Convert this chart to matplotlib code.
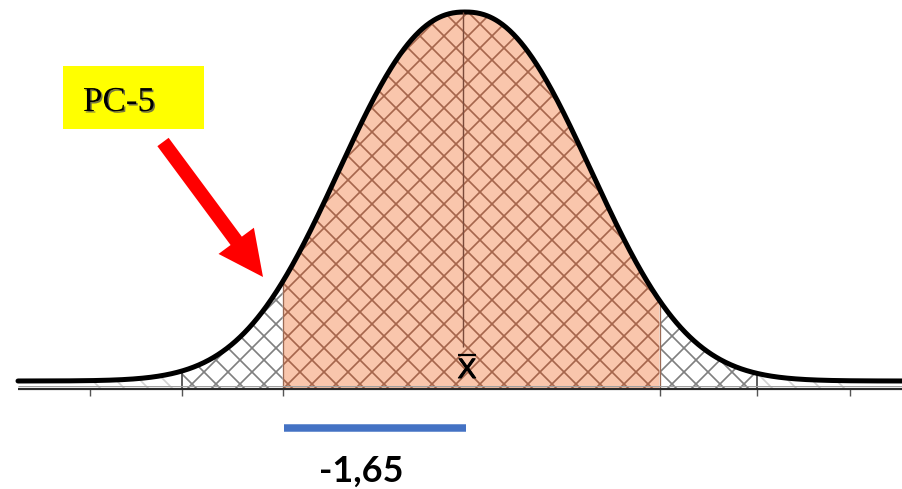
import matplotlib
matplotlib.use("Agg")
import matplotlib.pyplot as plt  # noqa: E402
import matplotlib.patheffects as pe  # noqa: E402
import numpy as np  # noqa: E402

# values (x in screen-like units, y = height above bottom edge)
curve_mean = 465.0
curve_base = 108.0      # level the tails run out to
curve_peak = 369.0      # peak height above curve_base
curve_spread = 162.0
curve_shape = 2.3       # bell is a bit flatter on top than a plain gaussian
axis_level = 100.5
x_start, x_end = 18.0, 902.0

tick_x = [90, 182, 283, 660, 757, 850]
shade_bounds = (283, 660)     # salmon, cross-hatched
tail_bounds = (182, 757)      # grey cross-hatch outside the salmon part
far_bounds = (90, 850)        # faint single hatch
mean_line_x = 463
z_label = "-1,65"
box_label = "PC-5"

SALMON = "#F9C6AC"
BROWN_HATCH = "#A6664C"
GREY_HATCH = "#808080"
FAINT_HATCH = "#D2D2D2"
BLUE = "#4472C4"

plt.rcParams["hatch.linewidth"] = 1.7

W, H = 902, 489
fig = plt.figure(figsize=(W / 72, H / 72), dpi=72)
ax = fig.add_axes([0, 0, 1, 1])
ax.set_xlim(0, W)
ax.set_ylim(0, H)
ax.axis("off")


def bell(x):
    z = np.abs(np.asarray(x, dtype=float) - curve_mean) / curve_spread
    return curve_base + curve_peak * np.exp(-z ** curve_shape)


xs = np.linspace(x_start, x_end, 1200)
ys = bell(xs)


def region(lo, hi):
    m = (xs >= lo) & (xs <= hi)
    return xs[m], ys[m]


# faint single hatch in the outer tails
for lo, hi in [(far_bounds[0], tail_bounds[0]), (tail_bounds[1], far_bounds[1])]:
    rx, ry = region(lo, hi)
    ax.fill_between(rx, axis_level, ry, facecolor="none", edgecolor=FAINT_HATCH,
                    hatch="\\", linewidth=0)

# grey cross hatch next to the shaded part
for lo, hi in [(tail_bounds[0], shade_bounds[0]), (shade_bounds[1], tail_bounds[1])]:
    rx, ry = region(lo, hi)
    ax.fill_between(rx, axis_level, ry, facecolor="none", edgecolor=GREY_HATCH,
                    hatch="x", linewidth=0)

# salmon central area
rx, ry = region(*shade_bounds)
ax.fill_between(rx, axis_level, ry, facecolor=SALMON, edgecolor=BROWN_HATCH,
                hatch="x", linewidth=0)

# boundary lines and ticks
for bx in shade_bounds:
    ax.vlines(bx, axis_level, bell(bx), color="#9A6A55", lw=1.3)
for bx in tail_bounds:
    ax.vlines(bx, axis_level, bell(bx), color="#3A3A3A", lw=1.6)
ax.vlines(tick_x, 93, axis_level, color="#555555", lw=1.4)

# axis line
ax.plot([x_start, x_end], [axis_level, axis_level], color="#2A2A2A", lw=2.2,
        solid_capstyle="butt")
ax.plot([x_start, x_end], [axis_level + 2.5, axis_level + 2.5], color="#A0A0A0",
        lw=1.0, solid_capstyle="butt")

# curve
ax.plot(xs, ys, color="black", lw=5, solid_capstyle="round")

# mean line and x-bar
ax.vlines(mean_line_x, 142, bell(mean_line_x), color="#7A4A3A", lw=1.4)
ax.text(467, 111, "X", ha="center", va="baseline", fontsize=28,
        family="Liberation Sans", color="black",
        path_effects=[pe.withStroke(linewidth=1, foreground="black")])
ax.plot([458, 476], [134, 134], color="black", lw=2.2, solid_capstyle="butt")

# yellow label box with red arrow
ax.add_patch(plt.Rectangle((63, H - 129), 141, 63, facecolor="#FFFF00",
                           edgecolor="none"))
ax.text(83, H - 111, box_label, ha="left", va="baseline", fontsize=35,
        family="Liberation Serif", color="black",
        path_effects=[pe.SimplePatchShadow(offset=(1.5, -1.5),
                                           shadow_rgbFace="#555555", alpha=0.8),
                      pe.Normal()])
ax.arrow(163, H - 142, 100, -135, width=14, head_width=44, head_length=45,
         length_includes_head=True, color="#FF0000", linewidth=0)

# blue bar from the shaded boundary to the mean, with z value
ax.plot([shade_bounds[0] + 1, curve_mean + 1], [H - 428, H - 428], color=BLUE,
        lw=7.5, solid_capstyle="butt")
ax.text(361, H - 482, z_label, ha="center", va="baseline", fontsize=36,
        family="Lato", fontweight="bold", color="black")

fig.savefig("out.png", dpi=72)
